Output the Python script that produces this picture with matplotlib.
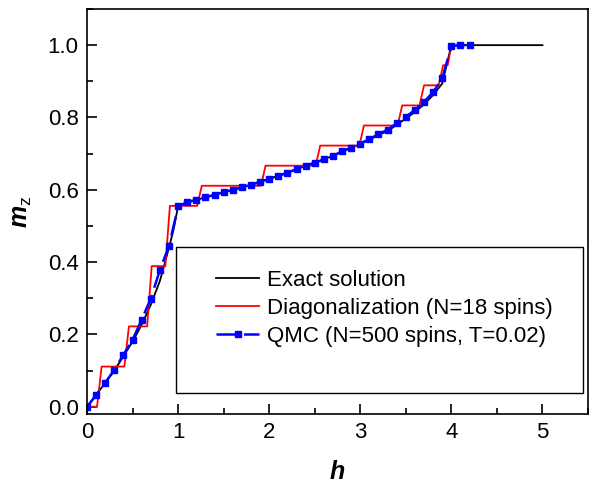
import matplotlib
matplotlib.use("Agg")
import matplotlib.pyplot as plt
from matplotlib.patches import Rectangle
from matplotlib.ticker import MultipleLocator

plt.rcParams['font.family'] = ['Liberation Sans', 'DejaVu Sans']
plt.rcParams['mathtext.fontset'] = 'custom'
plt.rcParams['mathtext.it'] = 'Liberation Sans:italic:bold'
plt.rcParams['mathtext.rm'] = 'Liberation Sans'

# QMC (N=500 spins, T=0.02)
qmc_h = [0.0, 0.1, 0.2, 0.3, 0.4, 0.5, 0.6, 0.7, 0.8, 0.9, 1.0,
         1.1, 1.2, 1.3, 1.4, 1.5, 1.6, 1.7, 1.8, 1.9, 2.0,
         2.1, 2.2, 2.3, 2.4, 2.5, 2.6, 2.7, 2.8, 2.9, 3.0,
         3.1, 3.2, 3.3, 3.4, 3.5, 3.6, 3.7, 3.8, 3.9, 4.0, 4.1, 4.2]
qmc_m = [0.0, 0.032, 0.067, 0.102, 0.144, 0.185, 0.241, 0.299, 0.378, 0.445, 0.554,
         0.566, 0.572, 0.579, 0.586, 0.594, 0.599, 0.607, 0.614, 0.622, 0.630,
         0.638, 0.647, 0.657, 0.667, 0.675, 0.684, 0.693, 0.707, 0.716, 0.728,
         0.740, 0.754, 0.766, 0.784, 0.802, 0.821, 0.843, 0.870, 0.908, 0.997, 1.0, 1.0]

# Exact solution
exact_h = [0.0, 0.1, 0.2, 0.3, 0.4, 0.5, 0.6, 0.7, 0.8, 0.9, 0.95, 1.0,
           1.1, 1.2, 1.3, 1.4, 1.5, 1.6, 1.7, 1.8, 1.9, 2.0,
           2.1, 2.2, 2.3, 2.4, 2.5, 2.6, 2.7, 2.8, 2.9, 3.0,
           3.1, 3.2, 3.3, 3.4, 3.5, 3.6, 3.7, 3.8, 3.9, 4.0, 5.0]
exact_m = [0.0, 0.033, 0.066, 0.100, 0.140, 0.180, 0.227, 0.282, 0.348, 0.440, 0.490, 0.555,
           0.565, 0.572, 0.579, 0.586, 0.593, 0.600, 0.607, 0.614, 0.622, 0.631,
           0.639, 0.648, 0.657, 0.666, 0.675, 0.684, 0.694, 0.706, 0.716, 0.727,
           0.738, 0.752, 0.762, 0.780, 0.797, 0.815, 0.836, 0.862, 0.894, 1.0, 1.0]

# Diagonalization (N=18 spins)
diag_h = [0.0, 0.11, 0.16, 0.41, 0.46, 0.66, 0.71, 0.86, 0.91, 1.21, 1.26,
          1.91, 1.96, 2.51, 2.56, 2.99, 3.04, 3.41, 3.46, 3.65, 3.70, 3.86, 3.91, 3.96, 4.0]
diag_m = [0.0, 0.0, 2/18, 2/18, 4/18, 4/18, 7/18, 7/18, 10/18, 10/18, 11/18,
          11/18, 12/18, 12/18, 13/18, 13/18, 14/18, 14/18, 15/18, 15/18, 16/18, 16/18, 17/18, 17/18, 1.0]

fig = plt.figure(figsize=(5.9, 4.83), dpi=100)
ax = fig.add_axes([0.1475, 0.1429, 0.8491, 0.8385])

ax.plot(exact_h, exact_m, color='black', lw=1.3, label='Exact solution')
ax.plot(diag_h, diag_m, color='red', lw=1.3, label='Diagonalization (N=18 spins)')
ax.plot(qmc_h, qmc_m, color='blue', lw=1.8, ls=(0, (8, 3)), marker='s', ms=4.5,
        label='QMC (N=500 spins, T=0.02)')

ax.set_xlim(0, 5.5)
ax.set_ylim(-0.02, 1.1)
ax.xaxis.set_major_locator(MultipleLocator(1))
ax.xaxis.set_minor_locator(MultipleLocator(0.5))
ax.yaxis.set_minor_locator(MultipleLocator(0.1))
ax.set_yticks([0, 0.2, 0.4, 0.6, 0.8, 1.0])
ax.set_yticklabels(['0.0', '0.2', '0.4', '0.6', '0.8', '1.0'])
ax.tick_params(which='both', direction='in', top=False, right=False, labelsize=16, width=1.2)
ax.tick_params(which='major', length=7, pad=6)
ax.tick_params(which='minor', length=4)
for sp in ax.spines.values():
    sp.set_linewidth(1.2)

ax.set_xlabel('h', fontsize=18, fontweight='bold', fontstyle='italic', labelpad=12)
ax.set_ylabel('$m_{\\mathrm{z}}$', fontsize=18, labelpad=10)

ax.add_patch(Rectangle((0.178, 0.052), 0.812, 0.36, transform=ax.transAxes,
                       fill=False, edgecolor='black', lw=1.0, zorder=5))
ax.legend(loc='upper left', bbox_to_anchor=(0.2575, 0.355), frameon=False, fontsize=16,
          handlelength=1.95, handletextpad=0.36, labelspacing=0.3,
          borderpad=0, borderaxespad=0)

fig.savefig('out.png', dpi=100)
